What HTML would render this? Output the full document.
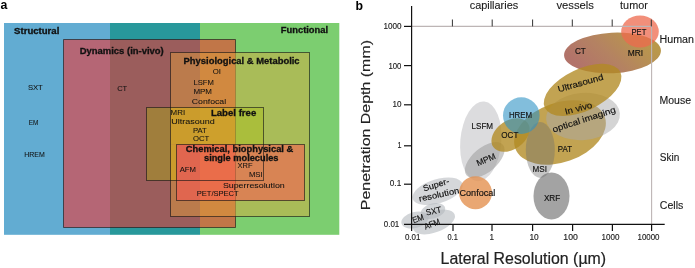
<!DOCTYPE html>
<html><head><meta charset="utf-8">
<style>
html,body{margin:0;padding:0;background:#fff;}
body{width:695px;height:268px;overflow:hidden;}
svg{display:block;will-change:transform;filter:blur(0.3px);}
text{font-family:"Liberation Sans",sans-serif;}
.b{font-weight:bold;}
.s{font-family:"Liberation Serif",serif;}
</style></head>
<body>
<svg width="695" height="268" viewBox="0 0 695 268">
<rect width="695" height="268" fill="#fff"/>
<!-- ===== Panel a ===== -->
<text x="0.5" y="9.3" class="b" font-size="12.3">a</text>
<rect x="4" y="23" width="106" height="211.8" fill="rgb(98,172,210)"/>
<rect x="110" y="23" width="90" height="211.8" fill="rgb(40,152,155)"/>
<rect x="200" y="23" width="139.3" height="211.8" fill="rgb(124,206,112)"/>
<rect x="63.5" y="39.5" width="172" height="188" fill="rgba(250,45,40,0.55)"/>
<rect x="170.5" y="52.5" width="139" height="164" fill="rgba(232,165,55,0.42)"/>
<g id="lfcells">
<rect x="146.5" y="107.5" width="24" height="73" fill="rgb(160,126,60)"/>
<rect x="170.5" y="107.5" width="29.5" height="37" fill="rgb(203,156,44)"/>
<rect x="170.5" y="144.5" width="6" height="36" fill="rgb(203,156,44)"/>
<rect x="200" y="107.5" width="35.5" height="37" fill="rgb(206,160,44)"/>
<rect x="235.5" y="107.5" width="28" height="37" fill="rgb(170,190,60)"/>
</g>
<rect x="176.5" y="144.5" width="128" height="56" fill="rgba(255,85,82,0.55)"/>
<g stroke="rgba(20,20,20,0.62)" stroke-width="1" fill="none">
<path d="M235.5 52.5V39.5H63.5V227.5H235.5V216.5"/>
<path d="M235.5 52.5V216.5" stroke="rgba(40,30,10,0.22)"/>
<rect x="170.5" y="52.5" width="139" height="164"/>
<rect x="146.5" y="107.5" width="117" height="73"/>
<rect x="176.5" y="144.5" width="128" height="56"/>
</g>
<g font-size="8.3" fill="#111" stroke="#111" stroke-width="0.28">
<text x="14.1" y="34" class="b" textLength="45.2" lengthAdjust="spacingAndGlyphs">Structural</text>
<text x="280.8" y="32.9" class="b" textLength="47.3" lengthAdjust="spacingAndGlyphs">Functional</text>
<text x="79.7" y="53.7" class="b" textLength="84.1" lengthAdjust="spacingAndGlyphs">Dynamics (in-vivo)</text>
<text x="183.6" y="63.9" class="b" textLength="116" lengthAdjust="spacingAndGlyphs">Physiological &amp; Metabolic</text>
<text x="210.9" y="116.2" class="b" textLength="45.4" lengthAdjust="spacingAndGlyphs">Label free</text>
<text x="185.8" y="152.3" class="b" textLength="107.5" lengthAdjust="spacingAndGlyphs">Chemical, biophysical &amp;</text>
<text x="204" y="160.5" class="b" textLength="74.5" lengthAdjust="spacingAndGlyphs">single molecules</text>
</g>
<g font-size="8" fill="#111" stroke="#111" stroke-width="0.06" transform="translate(0,-0.5)">
<text x="27.9" y="90.1" textLength="14.9" lengthAdjust="spacingAndGlyphs">SXT</text>
<text x="28.7" y="125.5" textLength="9.6" lengthAdjust="spacingAndGlyphs">EM</text>
<text x="24.2" y="157.9" textLength="20.5" lengthAdjust="spacingAndGlyphs">HREM</text>
<text x="117.2" y="91.3" textLength="10" lengthAdjust="spacingAndGlyphs">CT</text>
<text x="212.7" y="74.6" textLength="8.2" lengthAdjust="spacingAndGlyphs">OI</text>
<text x="193.4" y="85.3" textLength="20.4" lengthAdjust="spacingAndGlyphs">LSFM</text>
<text x="193.4" y="94.7" textLength="18.6" lengthAdjust="spacingAndGlyphs">MPM</text>
<text x="191.8" y="104.4" textLength="34.3" lengthAdjust="spacingAndGlyphs">Confocal</text>
<text x="170.6" y="115.5" textLength="14.5" lengthAdjust="spacingAndGlyphs">MRI</text>
<text x="171.3" y="124.7" textLength="43.4" lengthAdjust="spacingAndGlyphs">Ultrasound</text>
<text x="193" y="133" textLength="13.8" lengthAdjust="spacingAndGlyphs">PAT</text>
<text x="193" y="141.9" textLength="16.3" lengthAdjust="spacingAndGlyphs">OCT</text>
<text x="179.7" y="172.8" textLength="16.3" lengthAdjust="spacingAndGlyphs">AFM</text>
<text x="237.5" y="168.6" textLength="15" lengthAdjust="spacingAndGlyphs">XRF</text>
<text x="248.9" y="177.6" textLength="13.8" lengthAdjust="spacingAndGlyphs">MSI</text>
<text x="222.9" y="188.5" textLength="61.9" lengthAdjust="spacingAndGlyphs">Superresolution</text>
<text x="196.7" y="196.5" textLength="42" lengthAdjust="spacingAndGlyphs">PET/SPECT</text>
</g>

<!-- ===== Panel b ===== -->
<text x="355.5" y="9.6" class="b" font-size="12.3">b</text>
<!-- ellipses -->
<defs>
<linearGradient id="ctmri" x1="0" y1="0.7" x2="1" y2="0.3">
<stop offset="0.1" stop-color="rgb(178,115,106)"/>
<stop offset="0.45" stop-color="rgb(180,130,98)"/>
<stop offset="0.9" stop-color="rgb(185,152,75)"/>
</linearGradient>
</defs>
<g>
<ellipse cx="480.8" cy="141.3" rx="20.5" ry="40" transform="rotate(5 480.8 141.3)" fill="rgba(196,196,200,0.6)"/>
<ellipse cx="484.7" cy="160" rx="23.8" ry="12.3" transform="rotate(-40 484.7 160)" fill="rgba(150,150,150,0.5)"/>
<ellipse cx="437.6" cy="191.3" rx="26" ry="12" transform="rotate(-17 437.6 191.3)" fill="rgba(195,198,202,0.7)"/>
<ellipse cx="415" cy="220" rx="14" ry="8" transform="rotate(-15 415 220)" fill="rgba(180,185,190,0.6)"/>
<ellipse cx="433" cy="211" rx="12.5" ry="7.5" transform="rotate(-15 433 211)" fill="rgba(180,185,190,0.6)"/>
<ellipse cx="434" cy="222" rx="22" ry="10.5" transform="rotate(-20 434 222)" fill="rgba(180,185,190,0.6)"/>
<circle cx="475.5" cy="192.7" r="16.5" fill="rgba(228,145,80,0.8)"/>
<ellipse cx="551.5" cy="196" rx="18" ry="23.5" fill="rgba(140,140,140,0.8)"/>
<ellipse cx="560" cy="132.5" rx="47.5" ry="29.8" transform="rotate(-19.4 560 132.5)" fill="rgba(178,138,36,0.79)"/>
<ellipse cx="583" cy="116.5" rx="37" ry="23.5" transform="rotate(-5 583 116.5)" fill="rgba(170,170,170,0.5)"/>
<ellipse cx="540.3" cy="150" rx="14.5" ry="28" fill="rgba(110,110,110,0.4)"/>
<ellipse cx="612.5" cy="52.9" rx="48.5" ry="20.3" transform="rotate(-3 612.5 52.9)" fill="url(#ctmri)"/>
<ellipse cx="582.6" cy="89.9" rx="41.8" ry="21" transform="rotate(-25.3 582.6 89.9)" fill="rgba(178,138,36,0.79)"/>
<ellipse cx="510.5" cy="135" rx="21" ry="14.3" transform="rotate(-35 510.5 135)" fill="rgba(178,138,36,0.79)"/>
<circle cx="521.3" cy="115.6" r="18.3" fill="rgba(47,147,197,0.6)"/>
<ellipse cx="640" cy="31.5" rx="18.8" ry="16" fill="rgba(238,105,78,0.75)"/>
</g>
<!-- frame lines -->
<line x1="411.6" y1="26.4" x2="651.6" y2="26.4" stroke="#bdb5b5" stroke-width="1.1"/>
<line x1="651.6" y1="26.4" x2="651.6" y2="224.4" stroke="#bdb5b5" stroke-width="1.1"/>

<!-- axes -->
<g stroke="#111" stroke-width="1.2">
<line x1="411.6" y1="6" x2="411.6" y2="231"/>
<line x1="404" y1="224.4" x2="664.7" y2="224.4"/>
<line x1="404" y1="26.4" x2="411.6" y2="26.4"/>
<line x1="404" y1="65.6" x2="411.6" y2="65.6"/>
<line x1="404" y1="104.8" x2="411.6" y2="104.8"/>
<line x1="404" y1="145.8" x2="411.6" y2="145.8"/>
<line x1="404" y1="184.2" x2="411.6" y2="184.2"/>
<line x1="453" y1="224.4" x2="453" y2="231"/>
<line x1="492" y1="224.4" x2="492" y2="231"/>
<line x1="532.6" y1="224.4" x2="532.6" y2="231"/>
<line x1="572.6" y1="224.4" x2="572.6" y2="231"/>
<line x1="612.4" y1="224.4" x2="612.4" y2="231"/>
<line x1="651.6" y1="224.4" x2="651.6" y2="231"/>
</g>
<g stroke="#333" stroke-width="1">
<line x1="452.4" y1="19.5" x2="452.4" y2="26.4"/>
<line x1="492.2" y1="19.5" x2="492.2" y2="26.4"/>
<line x1="532.6" y1="19.5" x2="532.6" y2="26.4"/>
<line x1="572.3" y1="19.5" x2="572.3" y2="26.4"/>
<line x1="612.2" y1="19.5" x2="612.2" y2="26.4"/>
<line x1="651.3" y1="19.5" x2="651.3" y2="26.4"/>
</g>
<!-- tick labels -->
<g class="s" font-size="8.9" fill="#1e1e1e" stroke="#1e1e1e" stroke-width="0.15">
<text x="383.5" y="29.0" textLength="18.1" lengthAdjust="spacingAndGlyphs">1000</text>
<text x="388.5" y="69.0" textLength="12.9" lengthAdjust="spacingAndGlyphs">100</text>
<text x="392.4" y="106.9" textLength="9.0" lengthAdjust="spacingAndGlyphs">10</text>
<text x="397.4" y="147.9" textLength="4.0" lengthAdjust="spacingAndGlyphs">1</text>
<text x="389.8" y="186.1" textLength="11.4" lengthAdjust="spacingAndGlyphs">0.1</text>
<text x="383.8" y="226.5" textLength="15.5" lengthAdjust="spacingAndGlyphs">0.01</text>
<text x="404.9" y="239.9" textLength="15.5" lengthAdjust="spacingAndGlyphs">0.01</text>
<text x="447.5" y="239.9" textLength="10.3" lengthAdjust="spacingAndGlyphs">0.1</text>
<text x="489.5" y="239.9" textLength="4.5" lengthAdjust="spacingAndGlyphs">1</text>
<text x="529.4" y="239.9" textLength="9.3" lengthAdjust="spacingAndGlyphs">10</text>
<text x="563.3" y="239.9" textLength="14.5" lengthAdjust="spacingAndGlyphs">100</text>
<text x="601.5" y="239.9" textLength="17.9" lengthAdjust="spacingAndGlyphs">1000</text>
<text x="637.5" y="239.9" textLength="22.0" lengthAdjust="spacingAndGlyphs">10000</text>
</g>
<!-- category labels -->
<g font-size="11" fill="#1a1a1a" stroke="#1a1a1a" stroke-width="0.1">
<text x="469.7" y="8.8" textLength="48.5" lengthAdjust="spacingAndGlyphs">capillaries</text>
<text x="556.4" y="8.9" textLength="37.6" lengthAdjust="spacingAndGlyphs">vessels</text>
<text x="620.1" y="8.9" textLength="27.7" lengthAdjust="spacingAndGlyphs">tumor</text>
</g>
<g font-size="10" fill="#1a1a1a" stroke="#1a1a1a" stroke-width="0.12">
<text x="659.5" y="43.4" textLength="34.5" lengthAdjust="spacingAndGlyphs">Human</text>
<text x="659.5" y="103.9" textLength="31.5" lengthAdjust="spacingAndGlyphs">Mouse</text>
<text x="659.8" y="161" textLength="19.5" lengthAdjust="spacingAndGlyphs">Skin</text>
<text x="659.8" y="208.6" textLength="23.5" lengthAdjust="spacingAndGlyphs">Cells</text>
</g>
<!-- axis titles -->
<text x="440.6" y="264.3" font-size="16.2" fill="#222" stroke="#222" stroke-width="0.2" textLength="165.5" lengthAdjust="spacingAndGlyphs">Lateral Resolution (µm)</text>
<text transform="translate(369.6 210.2) rotate(-90)" x="0" y="0" font-size="12.2" stroke="#222" stroke-width="0.15" fill="#222" textLength="170.2" lengthAdjust="spacingAndGlyphs">Penetration Depth (mm)</text>

<!-- ellipse labels -->
<g font-size="8.6" fill="#111" stroke="#111" stroke-width="0.15">
<text x="631.5" y="35.3" textLength="14.8" lengthAdjust="spacingAndGlyphs">PET</text>
<text x="574.9" y="53.7" textLength="10.9" lengthAdjust="spacingAndGlyphs">CT</text>
<text x="627.8" y="56.2" textLength="15.4" lengthAdjust="spacingAndGlyphs">MRI</text>
<text x="508.9" y="118.3" textLength="23.2" lengthAdjust="spacingAndGlyphs">HREM</text>
<text x="471.5" y="129" textLength="21.6" lengthAdjust="spacingAndGlyphs">LSFM</text>
<text x="501.3" y="138.2" textLength="17" lengthAdjust="spacingAndGlyphs">OCT</text>
<text x="557.8" y="152.4" textLength="14.2" lengthAdjust="spacingAndGlyphs">PAT</text>
<text x="532.6" y="171.9" textLength="14.4" lengthAdjust="spacingAndGlyphs">MSI</text>
<text x="543.9" y="201" textLength="16.4" lengthAdjust="spacingAndGlyphs">XRF</text>
<text x="459.5" y="195.5" textLength="35.8" lengthAdjust="spacingAndGlyphs">Confocal</text>
<g text-anchor="middle">
<text x="580.5" y="86" transform="rotate(-16 580.5 83)" textLength="47" lengthAdjust="spacingAndGlyphs">Ultrasound</text>
<text x="578.5" y="111.3" transform="rotate(-15 578.5 108.3)" textLength="28" lengthAdjust="spacingAndGlyphs">In vivo</text>
<text x="584" y="122.4" transform="rotate(-18 584 119.4)" textLength="66" lengthAdjust="spacingAndGlyphs">optical imaging</text>
<text x="486" y="162.6" transform="rotate(-23 486 159.6)" textLength="20" lengthAdjust="spacingAndGlyphs">MPM</text>
<text x="436" y="187.7" transform="rotate(-17 436 184.7)" textLength="27" lengthAdjust="spacingAndGlyphs">Super-</text>
<text x="439" y="197.5" transform="rotate(-12 439 194.5)" textLength="41" lengthAdjust="spacingAndGlyphs">resolution</text>
<text x="418" y="221.5" transform="rotate(-18 418 218.5)" textLength="11.5" lengthAdjust="spacingAndGlyphs">EM</text>
<text x="433.5" y="214" transform="rotate(-12 433.5 211)" textLength="15.5" lengthAdjust="spacingAndGlyphs">SXT</text>
<text x="432" y="227" transform="rotate(-21 432 224)" textLength="16" lengthAdjust="spacingAndGlyphs">AFM</text>
</g>
</g>
</svg>
</body></html>
